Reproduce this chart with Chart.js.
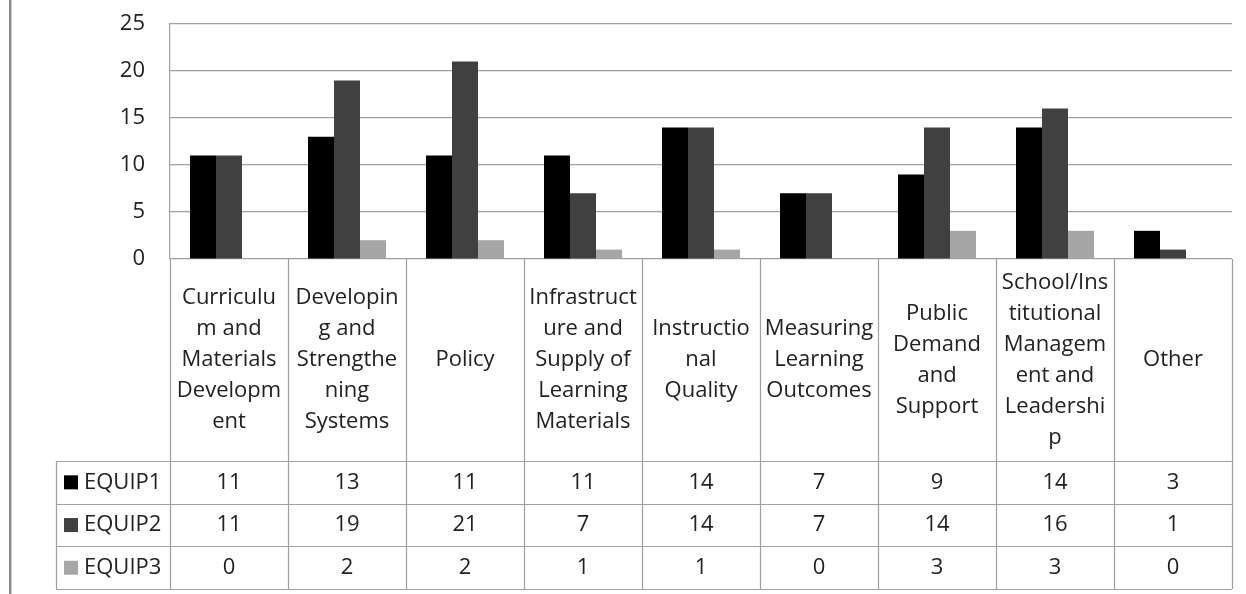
<!DOCTYPE html>
<html>
<head>
<meta charset="utf-8">
<script src="https://cdn.jsdelivr.net/npm/chart.js@4.4.0/dist/chart.umd.min.js"></script>
<style>
  html, body { margin: 0; padding: 0; background: #fff; }
  #wrap { width: 1246px; height: 594px; position: relative; }
</style>
</head>
<body>
<div id="wrap"><canvas id="chart"></canvas></div>
<script>
// Category names, already broken into the lines shown in the table header
const categories = [
  ["Curriculu", "m and", "Materials", "Developm", "ent"],
  ["Developin", "g and", "Strengthe", "ning", "Systems"],
  ["Policy"],
  ["Infrastruct", "ure and", "Supply of", "Learning", "Materials"],
  ["Instructio", "nal", "Quality"],
  ["Measuring", "Learning", "Outcomes"],
  ["Public", "Demand", "and", "Support"],
  ["School/Ins", "titutional", "Managem", "ent and", "Leadershi", "p"],
  ["Other"],
];
const seriesNames = ["EQUIP1", "EQUIP2", "EQUIP3"];
const equip1 = [11, 13, 11, 11, 14, 7, 9, 14, 3];
const equip2 = [11, 19, 21, 7, 14, 7, 14, 16, 1];
const equip3 = [0, 2, 2, 1, 1, 0, 3, 3, 0];
const yTicks = [0, 5, 10, 15, 20, 25];

const seriesColors = ["#000000", "#404040", "#a6a6a6"];
const seriesData = [equip1, equip2, equip3];

const FONT_FAMILY = '"Open Sans", sans-serif';
const FONT_SIZE = 22;
const TEXT_COLOR = "#222222";
const LINE_COLOR = "#a0a0a0";

// data table geometry (below the plot)
const tableLeft = 56;
const headerBottom = 461;
const rowHeight = 42.7;
const labelLineHeight = 31;

const dataTable = {
  id: "dataTable",
  afterDraw(chart) {
    const { ctx, chartArea } = chart;
    const x = chart.scales.x;
    const step = x.getPixelForValue(1) - x.getPixelForValue(0);
    const top = chartArea.bottom;
    const bottom = headerBottom + rowHeight * seriesNames.length;

    ctx.save();

    // outer frame edge on the left
    ctx.fillStyle = "#8c8c8c";
    ctx.fillRect(9, 0, 2.5, chart.height);

    ctx.strokeStyle = LINE_COLOR;
    ctx.lineWidth = 1.2;
    ctx.beginPath();
    // column borders
    for (let i = 0; i <= categories.length; i++) {
      const px = Math.round(x.getPixelForValue(i) - step / 2) + 0.5;
      ctx.moveTo(px, top);
      ctx.lineTo(px, bottom);
    }
    // series label column
    ctx.moveTo(tableLeft + 0.5, headerBottom);
    ctx.lineTo(tableLeft + 0.5, bottom);
    // rows
    for (let r = 0; r <= seriesNames.length; r++) {
      const py = Math.round(headerBottom + r * rowHeight) + 0.5;
      ctx.moveTo(tableLeft, py);
      ctx.lineTo(chartArea.right, py);
    }
    ctx.stroke();

    ctx.font = FONT_SIZE + "px " + FONT_FAMILY;
    ctx.fillStyle = TEXT_COLOR;
    ctx.textAlign = "center";
    ctx.textBaseline = "middle";

    // category header cells
    const headerMid = (top + headerBottom) / 2;
    categories.forEach((lines, i) => {
      const cx = x.getPixelForValue(i);
      const y0 = headerMid - (lines.length - 1) * labelLineHeight / 2;
      lines.forEach((t, k) => ctx.fillText(t, cx, y0 + k * labelLineHeight));
    });

    // value rows with legend keys
    seriesNames.forEach((name, r) => {
      const cy = headerBottom + (r + 0.5) * rowHeight;
      ctx.fillStyle = seriesColors[r];
      ctx.fillRect(64, cy - 7, 14, 14);
      ctx.fillStyle = TEXT_COLOR;
      ctx.textAlign = "left";
      ctx.fillText(name, 84, cy);
      ctx.textAlign = "center";
      seriesData[r].forEach((v, i) => ctx.fillText(String(v), x.getPixelForValue(i), cy));
    });

    ctx.restore();
  },
};

new Chart(document.getElementById("chart"), {
  type: "bar",
  data: {
    labels: categories,
    datasets: seriesNames.map((name, r) => ({
      label: name,
      data: seriesData[r],
      backgroundColor: seriesColors[r],
      borderWidth: 0,
      categoryPercentage: 0.661,
      barPercentage: 1.0,
    })),
  },
  options: {
    responsive: true,
    maintainAspectRatio: false,
    animation: false,
    layout: {
      padding: { left: 0, right: 14, top: 24, bottom: 335 },
    },
    plugins: {
      legend: { display: false },
      tooltip: { enabled: false },
    },
    scales: {
      x: {
        display: false,
      },
      y: {
        min: yTicks[0],
        max: yTicks[yTicks.length - 1],
        afterFit(scale) {
          scale.width = 170;
          scale.paddingTop = 0;
          scale.paddingBottom = 0;
        },
        afterBuildTicks(scale) {
          scale.ticks = yTicks.map((v) => ({ value: v }));
        },
        grid: {
          color: LINE_COLOR,
          lineWidth: 1.2,
          drawTicks: false,
        },
        border: { display: true, color: LINE_COLOR, width: 1.2 },
        ticks: {
          padding: 25,
          color: TEXT_COLOR,
          font: { family: FONT_FAMILY, size: FONT_SIZE },
        },
      },
    },
  },
  plugins: [dataTable],
});
</script>
</body>
</html>
